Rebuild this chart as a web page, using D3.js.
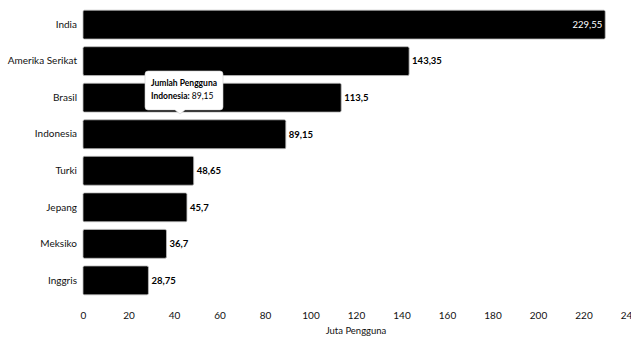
<!DOCTYPE html>
<html>
<head>
<meta charset="utf-8">
<script src="https://cdn.jsdelivr.net/npm/d3@7"></script>
<style>
  body { margin: 0; background: #fff; }
  svg { font-family: Lato, "Noto Sans", sans-serif; display: block; }
</style>
</head>
<body>
<svg id="chart"></svg>
<script>
// data
var negara = ["India", "Amerika Serikat", "Brasil", "Indonesia", "Turki", "Jepang", "Meksiko", "Inggris"];
var pengguna = [229.55, 143.35, 113.5, 89.15, 48.65, 45.7, 36.7, 28.75];
var labelNilai = ["229,55", "143,35", "113,5", "89,15", "48,65", "45,7", "36,7", "28,75"];
var xTicks = [0, 20, 40, 60, 80, 100, 120, 140, 160, 180, 200, 220, 240];

var width = 631, height = 338;
var svg = d3.select("#chart").attr("width", width).attr("height", height);

var x = d3.scaleLinear().domain([0, 240]).range([83, 629]);
var y = d3.scaleBand().domain(negara).range([2.5, 302.5]).paddingInner(0.21).paddingOuter(0.21);

var rows = negara.map(function(n, i) { return { name: n, v: pengguna[i], lbl: labelNilai[i] }; });

// bars
svg.selectAll("rect.bar")
  .data(rows)
  .enter()
  .append("rect")
  .attr("class", "bar")
  .attr("x", x(0))
  .attr("y", function(d) { return y(d.name); })
  .attr("width", function(d) { return x(d.v) - x(0); })
  .attr("height", y.bandwidth())
  .attr("rx", 1.5)
  .attr("fill", "#000")
  .attr("stroke", "#bbb")
  .attr("stroke-width", 0.8);

// value labels
svg.selectAll("text.val")
  .data(rows)
  .enter()
  .append("text")
  .attr("class", "val")
  .attr("x", function(d, i) { return i === 0 ? x(d.v) - 3 : x(d.v) + 3; })
  .attr("y", function(d) { return y(d.name) + y.bandwidth() / 2; })
  .attr("dy", "0.35em")
  .attr("text-anchor", function(d, i) { return i === 0 ? "end" : "start"; })
  .attr("font-size", 9.5)
  .attr("font-weight", function(d, i) { return i === 0 ? "normal" : "bold"; })
  .attr("fill", function(d, i) { return i === 0 ? "#fff" : "#000"; })
  .text(function(d) { return d.lbl; });

// category axis
var yAxis = d3.axisLeft(y).tickSize(0).tickPadding(6);
var gy = svg.append("g").attr("transform", "translate(" + x(0) + ",0)").call(yAxis);
gy.select(".domain").remove();
gy.selectAll("text").attr("font-size", 10).attr("fill", "#111").style("font-family", "Lato, 'Noto Sans', sans-serif");

// value axis
var xAxis = d3.axisBottom(x).tickValues(xTicks).tickSize(0).tickPadding(6).tickFormat(d3.format("d"));
var gx = svg.append("g").attr("transform", "translate(0,306)").call(xAxis);
gx.select(".domain").remove();
gx.selectAll("text").attr("font-size", 10).attr("fill", "#111").style("font-family", "Lato, 'Noto Sans', sans-serif");

svg.append("text")
  .attr("x", (x(0) + x(240)) / 2)
  .attr("y", 334)
  .attr("text-anchor", "middle")
  .attr("font-size", 9.5)
  .attr("fill", "#111")
  .text("Juta Pengguna");

// tooltip
var idx = negara.indexOf("Indonesia");
var tx = 145, ty = 71, tw = 78, th = 39;
var tip = svg.append("g");
tip.append("path")
  .attr("d", "M" + (tx + 3) + "," + ty + " H" + (tx + tw - 3) + " Q" + (tx + tw) + "," + ty + " " + (tx + tw) + "," + (ty + 3) +
    " V" + (ty + th - 3) + " Q" + (tx + tw) + "," + (ty + th) + " " + (tx + tw - 3) + "," + (ty + th) +
    " H" + 185 + " L180," + (ty + th + 4) + " L175," + (ty + th) +
    " H" + (tx + 3) + " Q" + tx + "," + (ty + th) + " " + tx + "," + (ty + th - 3) +
    " V" + (ty + 3) + " Q" + tx + "," + ty + " " + (tx + 3) + "," + ty + " Z")
  .attr("fill", "#fff")
  .attr("stroke", "#ccc")
  .attr("stroke-width", 0.6);
tip.append("text")
  .attr("x", tx + 6).attr("y", ty + 15)
  .attr("font-size", 8.5).attr("font-weight", "bold")
  .text("Jumlah Pengguna");
var t2 = tip.append("text")
  .attr("x", tx + 6).attr("y", ty + 28)
  .attr("font-size", 8.5);
t2.append("tspan").attr("font-weight", "bold").text(negara[idx] + ": ");
t2.append("tspan").text(labelNilai[idx]);
</script>
</body>
</html>
